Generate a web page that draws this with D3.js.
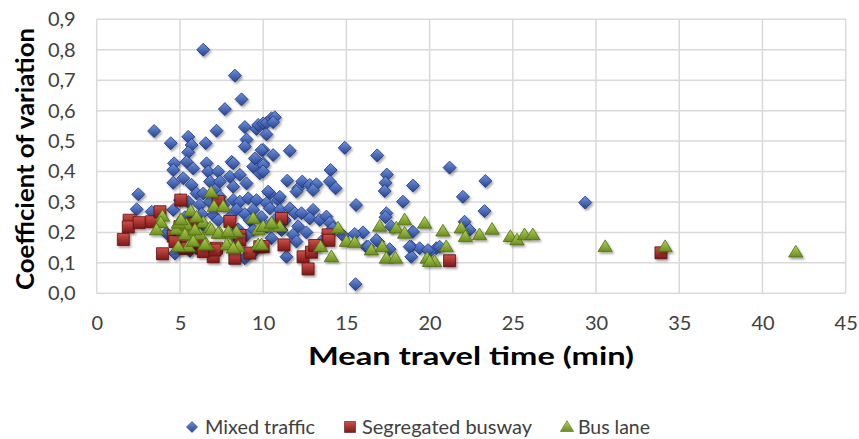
<!DOCTYPE html>
<html><head><meta charset="utf-8">
<script src="https://cdn.jsdelivr.net/npm/d3@7"></script>
<style>body{margin:0;background:#fff}svg{display:block}</style>
</head><body>
<svg id="chart" width="859" height="439"></svg>
<script>
const xTicks = [0,5,10,15,20,25,30,35,40,45];
const yTicks = [0,0.1,0.2,0.3,0.4,0.5,0.6,0.7,0.8,0.9];
const seriesNames = ["Mixed traffic","Segregated busway","Bus lane"];
const xTitle = "Mean travel time (min)";
const yTitle = "Coefficient of variation";

const mixedTraffic = [
[6.4,0.80],[8.3,0.715],[8.7,0.637],[7.7,0.605],[3.45,0.533],[4.45,0.493],[5.5,0.514],[5.7,0.487],[5.5,0.463],[6.55,0.493],[7.2,0.534],[8.9,0.546],[9.0,0.505],[8.9,0.482],[9.6,0.540],[9.7,0.553],[10.0,0.558],[10.2,0.56],[10.5,0.575],[10.7,0.578],[10.6,0.562],[10.2,0.522],[10.0,0.471],[10.6,0.454],[11.6,0.468],[14.9,0.478],[16.85,0.453],
[4.65,0.427],[4.6,0.405],[5.4,0.432],[5.2,0.378],[4.6,0.363],[5.8,0.41],[5.7,0.356],[6.0,0.328],[6.6,0.427],[6.7,0.40],[7.3,0.40],[8.1,0.432],[8.2,0.427],[8.0,0.383],[8.6,0.389],[9.0,0.361],[9.4,0.416],[10.0,0.427],[9.8,0.394],[9.5,0.443],[6.8,0.367],[7.4,0.367],[6.4,0.328],[7.1,0.339],[8.2,0.35],[10.4,0.328],[11.45,0.37],[12.1,0.345],[12.35,0.367],[12.8,0.356],[13.2,0.358],[13.0,0.339],[14.05,0.405],[14.0,0.367],[14.35,0.345],[17.43,0.39],[17.35,0.363],[17.3,0.336],[19.0,0.354],[18.4,0.301],[15.58,0.29],[15.55,0.03],
[2.5,0.325],[2.4,0.276],[3.3,0.268],[4.6,0.274],[5.0,0.306],[7.4,0.317],[8.2,0.306],[8.6,0.301],[9.1,0.312],[9.6,0.306],[9.4,0.274],[10.2,0.296],[10.9,0.306],[10.4,0.279],[11.0,0.274],[11.6,0.279],[11.9,0.263],[12.3,0.263],[13.0,0.274],[12.8,0.246],[13.4,0.241],[13.8,0.252],[14.0,0.232],[14.2,0.214],[13.9,0.197],[11.8,0.192],[10.5,0.181],[11.1,0.208],[10.2,0.219],[9.4,0.208],[16.0,0.2],[15.5,0.195],[17.4,0.263],[17.35,0.25],[16.9,0.17],[17.6,0.145],[16.2,0.153],[17.7,0.219],[19.0,0.202],[18.9,0.153],[19.4,0.148],[18.9,0.12],[11.4,0.12],[8.9,0.115],[4.7,0.131],[4.2,0.197],[7.0,0.257],
[21.2,0.413],[23.35,0.369],[22.0,0.317],[23.3,0.27],[29.35,0.298],[22.1,0.235],[22.4,0.208],[20.4,0.148],[20.0,0.137],[20.6,0.153],[16.3,0.153],[16.8,0.175],[18.8,0.153],[19.9,0.142],[10.0,0.421],[10.0,0.40],[12.0,0.334],[11.0,0.317],[10.3,0.334],[9.9,0.47],
[5.5,0.30],[6.2,0.29],[6.8,0.30],[7.6,0.29],[8.4,0.275],[8.9,0.26],[9.2,0.24],[9.9,0.25],[10.7,0.24],[6.3,0.26],[5.8,0.24],[7.3,0.24],[8.0,0.25],[8.5,0.21],[11.3,0.24],[12.1,0.22],[12.6,0.20],[5.3,0.25],[6.6,0.215],[9.0,0.19],[8.3,0.17],[6.1,0.18],[4.9,0.16],[5.6,0.14],[6.3,0.15],[9.5,0.14],[12.0,0.17],[13.5,0.17],[14.8,0.19]
];
const segregatedBusway = [
[1.6,0.177],[1.95,0.24],[1.9,0.218],[2.55,0.232],[3.3,0.235],[3.8,0.268],[5.05,0.306],[3.95,0.13],[4.6,0.188],[5.1,0.159],[5.4,0.148],[5.8,0.23],[6.3,0.148],[7.0,0.12],[7.2,0.148],[7.3,0.301],[8.0,0.236],[8.3,0.115],[8.6,0.19],[9.2,0.132],[9.8,0.153],[11.1,0.246],[11.25,0.159],[12.4,0.12],[12.7,0.08],[12.9,0.135],[13.1,0.157],[13.9,0.192],[13.95,0.174],[5.0,0.219],[21.2,0.107],[33.9,0.133],[5.9,0.23],[6.2,0.164],[6.4,0.137],[8.6,0.175],[5.3,0.148],[7.1,0.142],[10.0,0.153],[4.7,0.17]
];
const busLane = [
[6.88,0.332],[7.05,0.285],[7.6,0.285],[3.95,0.253],[3.85,0.232],[3.6,0.208],[5.0,0.237],[5.65,0.27],[5.2,0.208],[4.8,0.21],[5.7,0.197],[6.4,0.232],[6.2,0.192],[6.8,0.214],[7.4,0.197],[8.0,0.197],[8.4,0.202],[9.4,0.246],[9.7,0.208],[10.6,0.224],[11.0,0.219],[10.0,0.219],[5.5,0.153],[6.6,0.159],[8.0,0.159],[8.5,0.153],[9.7,0.159],[13.45,0.153],[14.5,0.214],[14.1,0.12],[15.0,0.17],[15.5,0.167],[16.5,0.142],[17.0,0.22],[17.15,0.153],[17.4,0.115],[17.95,0.115],[18.0,0.214],[18.5,0.241],[18.5,0.197],[19.7,0.23],[19.85,0.115],[20.3,0.104],[20.0,0.104],[20.8,0.204],[21.0,0.153],[21.9,0.214],[22.15,0.186],[23.0,0.192],[23.75,0.21],[24.85,0.186],[25.25,0.175],[25.7,0.192],[26.2,0.192],[30.55,0.153],[34.15,0.153],[42.0,0.135],[5.4,0.224],[4.9,0.23],[5.3,0.192],[5.9,0.208],[6.9,0.208],[7.3,0.197],[7.9,0.202],[5.8,0.17],[6.5,0.159],[7.8,0.159],[8.2,0.148],[4.9,0.153],[5.07,0.241],[10.5,0.23],[9.9,0.159],[6.0,0.25]
];

const svg = d3.select("#chart");
const font = "Lato, 'Open Sans', sans-serif";
const plot = {l:96.7, r:845.7, t:19.3, b:293.3};
const x = d3.scaleLinear().domain([0,45]).range([plot.l, plot.r]);
const y = d3.scaleLinear().domain([0,0.9]).range([plot.b, plot.t]);

const defs = svg.append("defs");
function grad(id, c1, c2){
  const g = defs.append("linearGradient").attr("id",id).attr("x1","0").attr("y1","0").attr("x2","0").attr("y2","1");
  g.append("stop").attr("offset","0%").attr("stop-color",c1);
  g.append("stop").attr("offset","100%").attr("stop-color",c2);
}
grad("gBlue","#6f93e0","#27438f");
grad("gRed","#d0504a","#7c1818");
grad("gGreen","#b5d35a","#6b8d1f");
const f = defs.append("filter").attr("id","shadow").attr("x","-50%").attr("y","-50%").attr("width","200%").attr("height","200%");
f.append("feDropShadow").attr("dx",1.5).attr("dy",2).attr("stdDeviation",1.2).attr("flood-color","#000").attr("flood-opacity",0.35);

// gridlines
const g = svg.append("g");
g.selectAll(".vg").data(xTicks).join("line")
  .attr("x1",d=>x(d)).attr("x2",d=>x(d)).attr("y1",plot.t).attr("y2",plot.b)
  .attr("stroke","#d9d9d9").attr("stroke-width",1.5);
g.selectAll(".hg").data(yTicks).join("line")
  .attr("y1",d=>y(d)).attr("y2",d=>y(d)).attr("x1",plot.l).attr("x2",plot.r)
  .attr("stroke","#d9d9d9").attr("stroke-width",1.5);

// axes (labels only)
const xAxis = d3.axisBottom(x).tickValues(xTicks).tickSize(0).tickPadding(0).tickFormat(d=>d);
const ax = svg.append("g").attr("transform",`translate(0,${plot.b+29})`).call(xAxis);
ax.select(".domain").remove();
ax.selectAll("text").attr("font-family",font).attr("font-size",20).attr("fill","#404040").attr("dy","0.36em");
const yAxis = d3.axisLeft(y).tickValues(yTicks).tickSize(0).tickPadding(0).tickFormat(d=>d3.format(".1f")(d).replace(".",","));
const ay = svg.append("g").attr("transform",`translate(${plot.l-21},0)`).call(yAxis);
ay.select(".domain").remove();
ay.selectAll("text").attr("font-family",font).attr("font-size",20).attr("fill","#404040");

// titles
svg.append("text").attr("x",471).attr("y",356).attr("dy","0.36em").attr("text-anchor","middle")
  .attr("font-family",font).attr("font-weight","bold").attr("font-size",25).attr("fill","#000")
  .attr("textLength",326).attr("lengthAdjust","spacingAndGlyphs").text(xTitle);
svg.append("text").attr("transform","translate(25,159) rotate(-90)").attr("dy","0.36em").attr("text-anchor","middle")
  .attr("font-family",font).attr("font-weight","bold").attr("font-size",24).attr("fill","#000")
  .attr("textLength",262).attr("lengthAdjust","spacingAndGlyphs").text(yTitle);

// markers
function diamondPath(s){return `M0,${-s}L${s},0L0,${s}L${-s},0Z`;}
function squarePath(s){return `M${-s},${-s}H${s}V${s}H${-s}Z`;}
function trianglePath(s){return `M0,${-s*1.05}L${s*1.1},${s*0.75}H${-s*1.1}Z`;}

const layers = [
  {data:mixedTraffic, path:diamondPath(6.5), fill:"url(#gBlue)", stroke:"#1f3577"},
  {data:segregatedBusway, path:squarePath(6), fill:"url(#gRed)", stroke:"#5e1010"},
  {data:busLane, path:trianglePath(6.5), fill:"url(#gGreen)", stroke:"#4f6d12"}
];
layers.forEach(L=>{
  svg.append("g").attr("filter","url(#shadow)").selectAll("path").data(L.data).join("path")
    .attr("transform",d=>`translate(${x(d[0])},${y(d[1])})`)
    .attr("d",L.path).attr("fill",L.fill).attr("stroke",L.stroke).attr("stroke-width",0.8);
});

// legend
const legY = 427;
const leg = [
  {name:seriesNames[0], path:diamondPath(5.5), fill:"url(#gBlue)", stroke:"#1f3577", mx:192, tx:205, w:110},
  {name:seriesNames[1], path:squarePath(5.5), fill:"url(#gRed)", stroke:"#5e1010", mx:350, tx:362, w:170},
  {name:seriesNames[2], path:trianglePath(6), fill:"url(#gGreen)", stroke:"#4f6d12", mx:567, tx:578, w:72}
];
const lg = svg.append("g");
leg.forEach(d=>{
  lg.append("path").attr("transform",`translate(${d.mx},${legY})`).attr("d",d.path)
    .attr("fill",d.fill).attr("stroke",d.stroke).attr("stroke-width",0.6);
  lg.append("text").attr("x",d.tx).attr("y",legY).attr("dy","0.36em")
    .attr("font-family",font).attr("font-size",20).attr("fill","#404040")
    .attr("textLength",d.w).attr("lengthAdjust","spacingAndGlyphs").text(d.name);
});
</script>
</body></html>
